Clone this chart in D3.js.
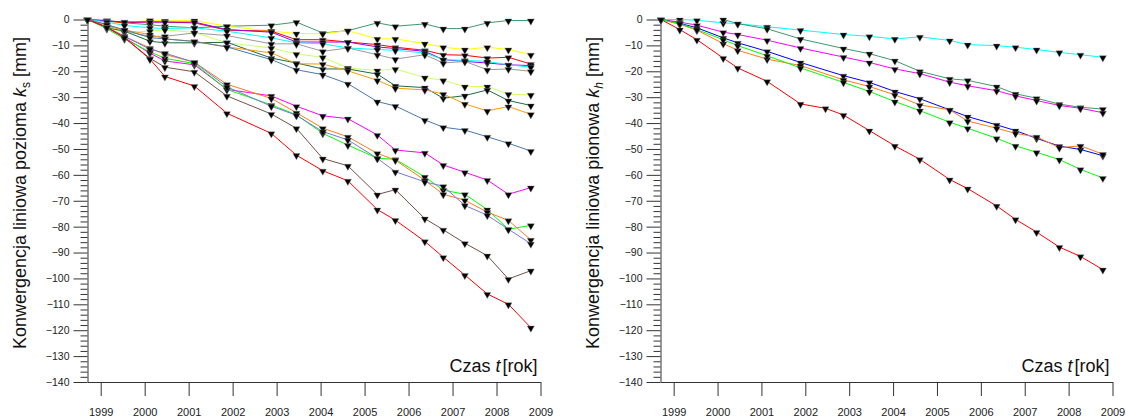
<!DOCTYPE html>
<html>
<head>
<meta charset="utf-8">
<script src="https://cdn.jsdelivr.net/npm/d3@7/dist/d3.min.js"></script>
<style>
  body { margin: 0; background: #fff; }
  text { font-family: "Liberation Sans", Arial, sans-serif; }
</style>
</head>
<body>
<div id="chart"></div>
<script>
//// data
var yearTicks = [1999, 2000, 2001, 2002, 2003, 2004, 2005, 2006, 2007, 2008, 2009];
var yTicks = d3.range(0, -141, -10);

// measurement dates (decimal years)
var timesS = [1998.70, 1999.14, 1999.54, 2000.12, 2000.46, 2001.13, 2001.87, 2002.88, 2003.45, 2004.05,
              2004.62, 2005.29, 2005.70, 2006.37, 2006.79, 2007.28, 2007.79, 2008.27, 2008.78];
var timesH = [1998.71, 1999.14, 1999.53, 2000.13, 2000.46, 2001.13, 2001.89, 2002.46, 2002.87, 2003.46,
              2004.04, 2004.61, 2005.29, 2005.70, 2006.36, 2006.79, 2007.27, 2007.79, 2008.27, 2008.78];

// horizontal convergence k_s [mm]
var ksSeaGreen   = [0, -0.3, -1.3, -2, -2.6, -3.2, -2.6, -2.2, -1.0, -5.2, -4.3, -1.3, -2.6, -1.7, -3.5, -3.5, -1.3, -0.4, -0.4];
var ksYellow     = [0, -0.5, -1.5, -0.3, -0.5, -0.4, -2.6, -4.5, -5.4, -5.5, -4.3, -7.5, -7.5, -9.3, -10.7, -11.6, -10.7, -11.6, -13.6];
var ksRed1       = [0, -0.6, -1.3, -0.9, -1, -1.3, -4.1, -4.5, -7.8, -7.8, -8.7, -9.7, -10.7, -11.9, -13.6, -13.8, -14.9, -14.6, -17.2];
var ksPurple     = [0, -0.6, -0.9, -1, -1, -1, -3.9, -4.9, -8.7, -8.7, -8.7, -10.6, -11.2, -12.3, -15.5, -16.2, -16.8, -17.5, -17.8];
var ksCyan       = [0, -1, -2.3, -3.2, -3.5, -3.2, -4.5, -7.1, -9, -9.4, -11, -11.6, -11.9, -12.9, -15.5, -15.8, -16.2, -17.5, -18.4];
var ksGray       = [0, -1.9, -4.5, -6.5, -6.5, -5.2, -6.2, -9.4, -9.4, -12.3, -11, -13.6, -15.3, -13.6, -16.8, -16.2, -19.4, -19.1, -20];
var ksYellowGrn  = [0, -3, -5, -4.5, -4, -5, -9, -11, -13.3, -14.6, -18.7, -19.7, -19.1, -22.4, -23.5, -25.9, -25.9, -28.8, -29.1];
var ksDarkGreen  = [0, -3.2, -4.5, -8.4, -9, -9, -8.8, -14.9, -16.8, -19.1, -19.1, -21.1, -25.6, -26.3, -30.4, -29.4, -27.2, -31.3, -33.2];
var ksOrange1    = [0, -2.6, -4.1, -5.8, -7.5, -8.4, -10.6, -12.9, -17.1, -17.2, -19.8, -23.5, -26.5, -27.2, -28.8, -32.6, -35.3, -33.6, -36.6];
var ksSteelBlue  = [0, -2, -4, -7, -7.5, -8.5, -10.6, -15.5, -19.4, -21.3, -24.8, -31.7, -33.4, -38.8, -41.6, -42.7, -45.3, -47.8, -50.8];
var ksMagenta    = [0, -3, -7, -13, -16, -17.5, -27, -29.5, -33.5, -37.2, -38.3, -44.6, -50.4, -51.5, -56.2, -59, -62, -67.5, -64.9];
var ksGreen      = [0, -3.5, -7.5, -12.5, -15, -17, -27, -33, -36.8, -44, -48.5, -53.6, -54, -60.8, -65.9, -67.5, -73.4, -81, -79.5];
var ksOrange2    = [0, -3, -6.5, -11, -13.5, -16.5, -25, -30.5, -36, -42, -45.3, -51.7, -54.3, -62.1, -67.5, -69.8, -74.4, -77.6, -85.1];
var ksSlateBlue  = [0, -3, -6.5, -11.5, -13, -16.5, -26, -33.5, -37, -43.3, -46.5, -53.6, -58.8, -62.7, -64.4, -71.8, -75.6, -81, -86.6];
var ksBrown      = [0, -3, -7, -15, -18.4, -20.2, -29.5, -36.5, -42, -53.7, -56.5, -67.6, -65.7, -76.9, -81.2, -86.4, -91.2, -100.2, -97];
var ksRed2       = [0, -3, -7, -15.3, -22, -25.7, -36.2, -44, -52.4, -58.4, -62.3, -73.4, -77.5, -85.7, -91.8, -98.7, -106, -110, -119];

// vertical convergence k_h [mm]
var khCyan     = [0, 0, -0.3, -1.3, -1.6, -2.8, -4.1, null, -5.8, -6.5, -7.5, -6.7, -8.1, -9.7, -10.1, -10.7, -11.6, -12.7, -13.6, -14.6];
var khSeaGreen = [null, null, null, 0, -1.6, -3.6, -7.5, null, -11.2, -13.2, -15.9, -20, -22.9, -23.5, -25.9, -28.7, -30.4, -32.7, -33.9, -34.6];
var khMagenta  = [0, -1, -2.2, -4.9, -5.8, -8, -11, null, -14.5, -16.6, -19.1, -20.9, -24.2, -25.6, -27.5, -29.5, -31.3, -33.2, -34.3, -36];
var khBlue     = [0, -1.5, -3.2, -7.1, -9, -12.3, -16.6, null, -21.7, -24.3, -27.8, -30.6, -34.9, -37.5, -40.7, -42.9, -45.9, -48.9, -50.2, -52.6];
var khOrange   = [0, -1.9, -4.1, -9.3, -11.9, -15.3, -17.8, null, -23.3, -25.9, -29.1, -33, -34.9, -39.2, -42, -44, -45.3, -49.5, -48.8, -52];
var khGreen    = [0, -1.6, -3.9, -7.8, -10.1, -14, -18.7, null, -24.3, -27.8, -31.7, -35.2, -39.7, -42, -45.9, -48.8, -51.3, -54.1, -57.9, -61.2];
var khRed      = [0, -3.9, -7.8, -14.9, -18.7, -23.9, -32.6, -34.3, -36.9, -42.9, -48.8, -54, -61.8, -65.3, -72, -77.2, -82.1, -87.9, -91.5, -96.6];

//// series tables (values + line colour)
var seriesS = [
  [ksSeaGreen, "#3d9a6a"], [ksYellow, "#ffff00"], [ksRed1, "#ff0000"], [ksPurple, "#9a00ff"],
  [ksCyan, "#00ffff"], [ksGray, "#9a9a9a"], [ksYellowGrn, "#ccff66"], [ksDarkGreen, "#17703a"],
  [ksOrange1, "#ff9900"], [ksSteelBlue, "#4a78b0"], [ksMagenta, "#ff00ff"], [ksGreen, "#00ff00"],
  [ksOrange2, "#ff7a1a"], [ksSlateBlue, "#7777dd"], [ksBrown, "#774f44"], [ksRed2, "#ff0000"]
];
var seriesH = [
  [khCyan, "#00ffff"], [khSeaGreen, "#3d9a6a"], [khMagenta, "#ff00ff"], [khBlue, "#0000ff"],
  [khOrange, "#ff7a1a"], [khGreen, "#00ff00"], [khRed, "#ff0000"]
];

//// chart
var width = 1126, height = 418;

var svg = d3.select("#chart")
  .append("svg")
    .attr("width", width)
    .attr("height", height);

var yScale = d3.scaleLinear()
  .domain([0, -140])
  .range([19.5, 382]);

function drawPanel(x0, x1, times, series, symbolLetter, italicSub, labelX) {
  var xScale = d3.scaleLinear()
    .domain([1998.7, 2009])
    .range([x0, x1]);

  var g = svg.append("g");

  // minor y ticks
  g.append("g")
    .attr("transform", "translate(" + x0 + ",0)")
    .call(d3.axisLeft(yScale)
      .tickValues(d3.range(0, -141, -2).filter(v => v % 10 !== 0))
      .tickSize(7)
      .tickSizeOuter(0)
      .tickFormat(""))
    .call(a => a.select(".domain").remove());

  // major y ticks
  g.append("g")
    .attr("transform", "translate(" + x0 + ",0)")
    .call(d3.axisLeft(yScale)
      .tickValues(yTicks)
      .tickSize(14)
      .tickSizeOuter(0)
      .tickPadding(4));

  // x axis
  g.append("g")
    .attr("transform", "translate(0," + yScale(-140) + ")")
    .call(d3.axisBottom(xScale)
      .tickValues(yearTicks)
      .tickSize(14)
      .tickSizeOuter(0)
      .tickPadding(12)
      .tickFormat(d3.format("d")));

  g.selectAll(".tick line, .domain").attr("stroke", "#333");
  g.selectAll(".tick text")
    .attr("fill", "#222")
    .style("font-family", "'Liberation Sans', Arial, sans-serif");
  g.selectAll(".tick text").filter(d => yearTicks.indexOf(d) < 0 || d === 0)
    .style("font-size", "10.5px");
  g.selectAll(".tick text").filter(d => d > 1000)
    .style("font-size", "11px");

  // lines
  var line = d3.line()
    .x(d => xScale(d.t))
    .y(d => yScale(d.v));

  var rows = series.map(function (s) {
    return {
      color: s[1],
      pts: times.map((t, i) => ({ t: t, v: s[0][i] })).filter(d => d.v != null)
    };
  });

  g.selectAll(".serie")
    .data(rows)
    .enter()
    .append("path")
      .attr("class", "serie")
      .attr("fill", "none")
      .attr("stroke", d => d.color)
      .attr("stroke-width", 1)
      .attr("d", d => line(d.pts));

  //// markers
  var tri = d3.symbol().type(d3.symbolTriangle).size(22);
  g.selectAll(".mark")
    .data(rows.flatMap(r => r.pts))
    .enter()
    .append("path")
      .attr("class", "mark")
      .attr("d", tri)
      .attr("fill", "#000")
      .attr("stroke", "#888")
      .attr("stroke-width", 0.4)
      .attr("transform", d => "translate(" + xScale(d.t) + "," + (yScale(d.v) + 0.5) + ") rotate(180)");

  // axis titles
  var xt = g.append("text")
    .attr("x", x1 - 3)
    .attr("y", 372)
    .attr("text-anchor", "end")
    .attr("fill", "#111")
    .style("font-size", "18px");
  xt.append("tspan").text("Czas ");
  xt.append("tspan").attr("font-style", "italic").text("t");
  xt.append("tspan").attr("dx", "2").text("[rok]");

  var yt = g.append("text")
    .attr("transform", "translate(" + labelX + ",193) rotate(-90)")
    .attr("text-anchor", "middle")
    .attr("fill", "#111")
    .style("font-size", "18px");
  yt.append("tspan").text(symbolLetter);
  yt.append("tspan").attr("font-style", "italic").text("k");
  yt.append("tspan")
    .attr("dy", 4)
    .attr("font-style", italicSub ? "italic" : "normal")
    .style("font-size", "12px")
    .text(italicSub ? "h" : "s");
  yt.append("tspan").attr("dy", -4).text(" [mm]");
}

drawPanel(87.5, 540.5, timesS, seriesS, "Konwergencja liniowa pozioma ", false, 26);
drawPanel(660.5, 1112.5, timesH, seriesH, "Konwergencja liniowa pionowa ", true, 599);
</script>
</body>
</html>
